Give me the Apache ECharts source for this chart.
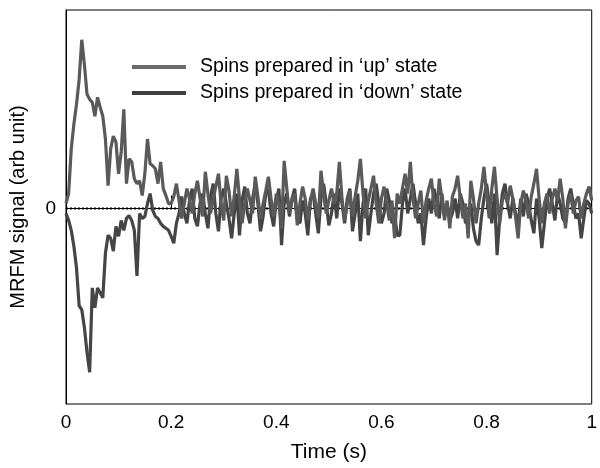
<!DOCTYPE html>
<html><head><meta charset="utf-8">
<script src="https://cdn.jsdelivr.net/npm/echarts@6/dist/echarts.min.js"></script>
<style>html,body{margin:0;padding:0;background:#fff}#c{width:600px;height:468px}</style>
</head><body><div id="c"></div>
<script>
// time step between samples (s)
var dt = 0.005;
var xTicks = ['0','0.2','0.4','0.6','0.8','1'];
var seriesNames = ["Spins prepared in \u2018up\u2019 state", "Spins prepared in \u2018down\u2019 state"];
// signal values (arb unit), one every dt from t = 0 to 1
var upValues = [5,15,60,85,105,130,170,145,115,110,107,93,112,102,93,70,23,60,73,67,35,57,100,25,50,47,30,25,28,13,35,70,45,43,40,25,47,20,13,5,5,
12,25,8,-10,5,20,10,-5,15,28,10,-8,37,15,-5,10,22,35,5,-12,33,18,-8,12,40,10,-15,5,20,8,-5,32,12,-10,5,18,32,10,-8,15,5,-20,48,20,-5,8,15,-17,5,22,10,-12,8,20,5,-10,38,15,-5,8,20,5,15,47,10,-12,5,18,-8,12,28,50,15,-10,8,20,33,5,-15,10,22,5,-12,8,-30,15,5,20,35,15,47,10,-10,5,18,-15,8,20,30,5,-8,30,10,-12,8,-20,12,20,33,10,-10,5,-30,28,10,-15,5,20,42,15,-10,20,42,10,-15,8,15,5,23,10,-8,-30,5,18,8,-10,12,25,40,10,-15,5,15,-5,10,20,8,30,10,-20,5,15,-5,8,12,-10,5,15,22,8];
var downValues = [-5,-12,-22,-38,-60,-98,-102,-120,-145,-165,-80,-100,-80,-85,-90,-45,-27,-30,-43,-18,-28,-12,-22,-10,-7,-12,-22,-68,-5,-10,-8,5,15,-2,-8,-10,-15,-18,-20,-22,-28,-35,-15,-5,12,
-5,-15,8,20,-10,-18,5,15,-5,-20,12,25,-5,-23,10,20,5,-10,-30,-5,15,-27,8,22,-5,-15,10,25,5,-23,-8,15,20,-5,-18,8,20,-37,5,15,-8,10,20,-10,-15,8,-5,-27,10,15,-5,-25,10,25,5,-17,-5,15,-10,20,5,-15,10,20,-23,-5,15,-33,5,20,-27,-5,15,25,5,-15,-5,20,8,-15,-5,-27,-27,5,20,-5,10,25,5,-15,-5,-37,-10,10,-5,20,8,-10,15,-8,5,-12,-5,10,-10,15,5,-15,-10,5,-20,-33,-37,-10,10,25,5,-15,15,-47,-10,15,25,5,-10,10,-5,-15,10,-8,15,5,-12,-25,10,-10,-40,-15,10,20,5,-12,15,5,-10,-15,10,20,5,-10,-5,-30,-10,8,5,-5];

function pairs(arr){ return arr.map(function(v,i){ return [+(i*dt).toFixed(4), v]; }); }

var chart = echarts.init(document.getElementById('c'), null, {renderer:'canvas'});
var font = 'Liberation Sans, Arial, sans-serif';
chart.setOption({
  animation:false,
  backgroundColor:'#fff',
  grid:{left:66,right:2,top:10,bottom:61,show:true,borderColor:'#000',borderWidth:1,backgroundColor:'transparent'},
  legend:{
    data:seriesNames, orient:'vertical', left:132, top:57, itemGap:6, padding:0,
    itemWidth:54, itemHeight:4, icon:'rect',
    textStyle:{fontFamily:font,fontSize:19.6,color:'#000',padding:[0,0,0,9]}
  },
  xAxis:{
    type:'value', min:0, max:1, interval:0.2,
    axisLine:{lineStyle:{color:'#000',width:1}},
    axisTick:{inside:true,length:13,lineStyle:{color:'#000'}},
    splitLine:{show:false},
    axisLabel:{fontFamily:font,fontSize:19,color:'#000',margin:9,
      formatter:function(v){ var i=Math.round(v/0.2); return xTicks[i]!==undefined?xTicks[i]:''; }},
    name:'Time (s)', nameLocation:'middle', nameGap:38,
    nameTextStyle:{fontFamily:font,fontSize:21,color:'#000'}
  },
  yAxis:{
    type:'value', min:-197, max:200,
    axisLine:{lineStyle:{color:'#000',width:1}},
    axisTick:{show:false}, splitLine:{show:false},
    axisLabel:{fontFamily:font,fontSize:19,color:'#000',margin:10,
      formatter:function(v){ return v===0?'0':''; }},
    name:'MRFM signal (arb unit)', nameLocation:'middle', nameGap:38,
    nameTextStyle:{fontFamily:font,fontSize:20,color:'#000'}
  },
  series:[
    {type:'line', name:'zero', data:[[0,0],[1,0]], showSymbol:false, silent:true, z:1,
     lineStyle:{color:'#000',width:2,type:[2,2]}},
    {type:'line', name:seriesNames[0], data:pairs(upValues), showSymbol:false, z:3,
     color:'#6a6a6a', lineStyle:{color:'#5a5a5a',width:3.2}},
    {type:'line', name:seriesNames[1], data:pairs(downValues), showSymbol:false, z:2,
     color:'#3e3e3e', lineStyle:{color:'#454545',width:3.2}}
  ]
});
</script></body></html>
